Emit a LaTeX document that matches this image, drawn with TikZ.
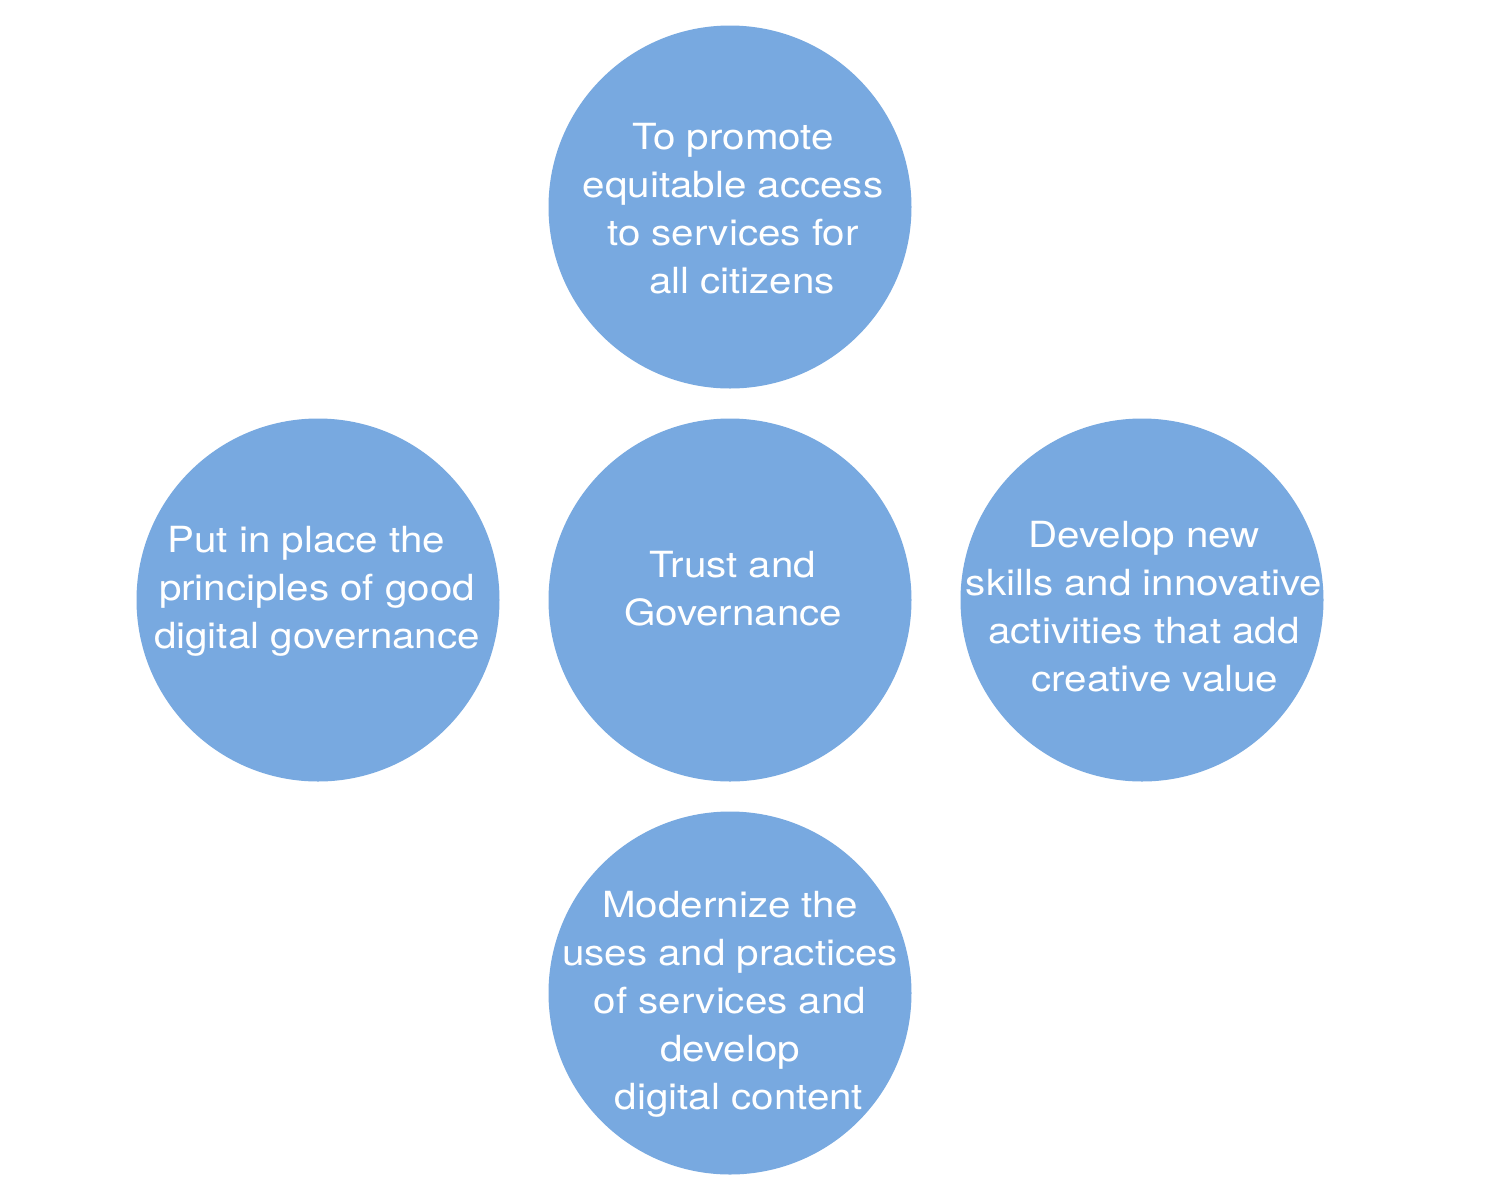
\documentclass[tikz,border=0pt]{standalone}
\usepackage{fontspec}
\setmainfont{TeX Gyre Heros}[FakeStretch=1.12]
\definecolor{bubble}{RGB}{120,169,224}
\begin{document}
\begin{tikzpicture}[x=0.5pt,y=-0.5pt,
  bub/.style={circle,fill=bubble,draw=none,minimum size=181.5pt,inner sep=0pt},
  txt/.style={text=white,align=center,inner sep=0pt,font=\fontsize{18}{24}\selectfont}]
\useasboundingbox[fill=white] (0,0) rectangle (1500,1200);
\node[bub] (top) at (730,207) {};
\node[bub] (mid) at (730,600) {};
\node[bub] (left) at (318,600) {};
\node[bub] (right) at (1142,600) {};
\node[bub] (bot) at (730,993) {};
\node[txt] (ttop) at (733,209) {To promote\\equitable access\\to services for\\\hspace*{0.5em}all citizens};
\node[txt] (tmid) at (733,589) {Trust and\\Governance};
\node[txt] (tleft) at (317,591) {Put in place the\hspace*{0.6em}\\principles of good\\digital governance};
\node[txt] (tright) at (1144,607) {Develop new\\skills and innovative\\activities that add\\\hspace*{0.6em}creative value};
\node[txt] (tbot) at (730,1004) {Modernize the\\uses and practices\\of services and\\develop\\\hspace*{0.5em}digital content};
\end{tikzpicture}
\end{document}
